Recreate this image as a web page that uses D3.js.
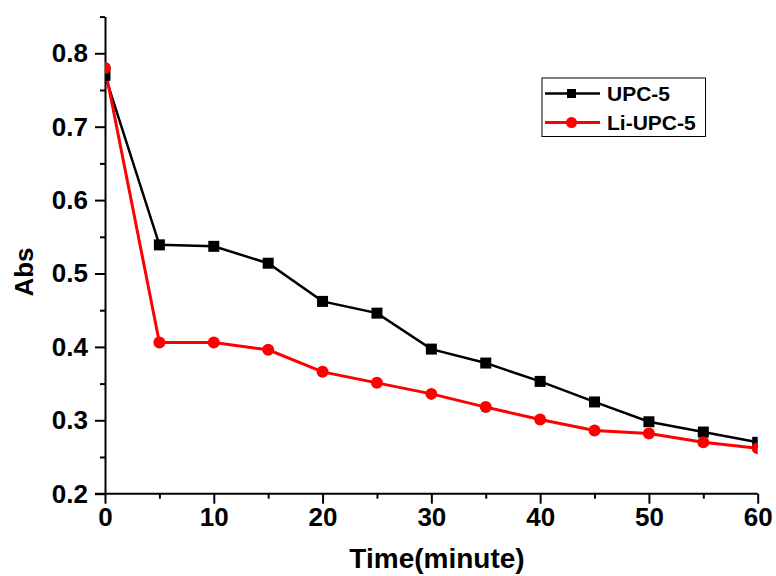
<!DOCTYPE html>
<html><head><meta charset="utf-8">
<script src="https://cdn.jsdelivr.net/npm/d3@7"></script>
<style>body{margin:0;background:#fff}svg{display:block}text{font-family:"Liberation Sans",Arial,sans-serif;font-weight:bold}</style>
</head><body>
<svg id="c" width="776" height="576"></svg>
<script>
const time = [0,5,10,15,20,25,30,35,40,45,50,55,60];
const upc5 = [0.770,0.539,0.537,0.514,0.462,0.446,0.397,0.378,0.353,0.325,0.298,0.284,0.270];
const liUpc5 = [0.780,0.406,0.406,0.396,0.366,0.351,0.336,0.318,0.301,0.286,0.282,0.270,0.262];
const seriesNames = ["UPC-5","Li-UPC-5"];
const xTicks = [0,10,20,30,40,50,60];
const xMinor = [5,15,25,35,45,55];
const yTicks = [0.2,0.3,0.4,0.5,0.6,0.7,0.8];
const yMinor = [0.25,0.35,0.45,0.55,0.65,0.75,0.85];

const svg = d3.select("#c");
const L=105, R=757.7, T=16.6, B=493.7;
const x = d3.scaleLinear().domain([0,60]).range([L,R]);
const y = d3.scaleLinear().domain([0.2,0.85]).range([B,T]);

svg.append("defs").append("clipPath").attr("id","clip")
  .append("rect").attr("x",L).attr("y",T-10).attr("width",R-L).attr("height",B-T+10);

// axes
const gx = svg.append("g").attr("transform",`translate(0,${B})`)
  .call(d3.axisBottom(x).tickValues(xTicks).tickFormat(d3.format("d")).tickSize(10).tickSizeOuter(0));
gx.selectAll(".tick text").attr("font-size",26).attr("dy","0.72em").attr("y",14).attr("fill","#000");
const gxm = svg.append("g").attr("transform",`translate(0,${B})`)
  .call(d3.axisBottom(x).tickValues(xMinor).tickFormat("").tickSize(5).tickSizeOuter(0));
gxm.select(".domain").remove();

const gy = svg.append("g").attr("transform",`translate(${L},0)`)
  .call(d3.axisLeft(y).tickValues(yTicks).tickFormat(d3.format(".1f")).tickSize(10).tickSizeOuter(0));
gy.selectAll(".tick text").attr("font-size",26).attr("x",-17).attr("fill","#000");
const gym = svg.append("g").attr("transform",`translate(${L},0)`)
  .call(d3.axisLeft(y).tickValues(yMinor).tickFormat("").tickSize(5).tickSizeOuter(0));
gym.select(".domain").remove();

svg.selectAll(".domain, .tick line").attr("stroke","#000").attr("stroke-width",2);
gx.select(".domain").attr("d",`M${L-10},0H${R}`);

// lines
const line = d3.line().x((d,i)=>x(time[i])).y(d=>y(d));
const plot = svg.append("g").attr("clip-path","url(#clip)");
plot.append("path").datum(upc5).attr("d",line).attr("fill","none").attr("stroke","#000").attr("stroke-width",2.5);
plot.append("path").datum(liUpc5).attr("d",line).attr("fill","none").attr("stroke","#ff0000").attr("stroke-width",3);
plot.selectAll("rect.m").data(upc5).join("rect").attr("class","m")
  .attr("x",(d,i)=>x(time[i])-5.5).attr("y",d=>y(d)-5.5).attr("width",11).attr("height",11).attr("fill","#000");
plot.selectAll("circle.m").data(liUpc5).join("circle").attr("class","m")
  .attr("cx",(d,i)=>x(time[i])).attr("cy",d=>y(d)).attr("r",6).attr("fill","#ff0000");

// axis titles
svg.append("text").attr("x",437).attr("y",568).attr("text-anchor","middle").attr("font-size",28).text("Time(minute)");
svg.append("text").attr("transform","translate(33,272) rotate(-90)").attr("text-anchor","middle").attr("font-size",26).text("Abs");

// legend
const lg = svg.append("g");
lg.append("rect").attr("x",542).attr("y",78).attr("width",163.5).attr("height",58.5).attr("fill","#fff").attr("stroke","#000").attr("stroke-width",1);
const ly = [93.5,122.5];
const cols = ["#000","#ff0000"];
seriesNames.forEach((n,i)=>{
  lg.append("line").attr("x1",545).attr("x2",600).attr("y1",ly[i]).attr("y2",ly[i]).attr("stroke",cols[i]).attr("stroke-width",i?3:2.5);
  if(i===0) lg.append("rect").attr("x",567).attr("y",ly[i]-4.5).attr("width",9).attr("height",9).attr("fill","#000");
  else lg.append("circle").attr("cx",571.5).attr("cy",ly[i]).attr("r",5.5).attr("fill","#ff0000");
  lg.append("text").attr("x",607).attr("y",ly[i]).attr("dy","0.36em").attr("font-size",21).text(n);
});
</script>
</body></html>
